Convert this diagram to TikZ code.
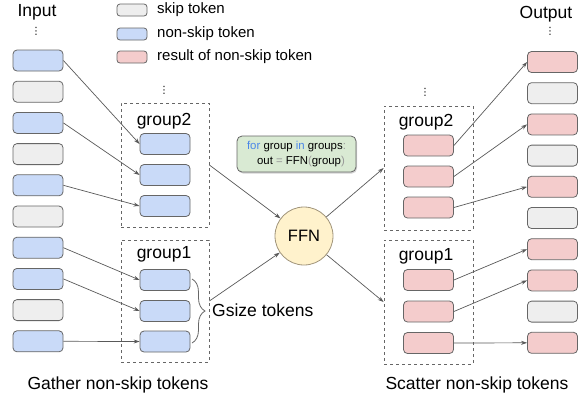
\documentclass[tikz,border=0pt]{standalone}
\usepackage{fontspec}
\setmainfont{Liberation Sans}
\newfontfamily\dvfont{DejaVu Sans}
\usetikzlibrary{arrows.meta,decorations.pathreplacing,shadows}
\definecolor{bluefill}{HTML}{C9DAF8}
\definecolor{skipfill}{HTML}{EEEEEE}
\definecolor{redfill}{HTML}{F4CCCC}
\definecolor{greenfill}{HTML}{D9EAD3}
\definecolor{yellowfill}{HTML}{FFF2CC}
\definecolor{boxline}{HTML}{666666}
\definecolor{arrowline}{HTML}{595959}
\definecolor{circline}{HTML}{A0947A}
\definecolor{codeblue}{HTML}{4A86E8}
\definecolor{codegray}{HTML}{999999}
\tikzset{
  tok/.style={rectangle, rounded corners=4pt, draw=boxline, line width=0.8pt, minimum width=50pt, minimum height=21pt, inner sep=0pt},
  blue/.style={tok, fill=bluefill},
  skip/.style={tok, fill=skipfill},
  red/.style={tok, fill=redfill},
  legbox/.style={rectangle, rounded corners=3pt, draw=boxline, line width=0.8pt, minimum width=30pt, minimum height=12pt, inner sep=0pt},
  grp/.style={rectangle, draw=boxline, dashed, line width=0.7pt, inner sep=0pt},
  conn/.style={draw=arrowline, line width=0.7pt, -{Stealth[length=6pt,width=4pt]}},
  big/.style={font=\fontsize{17.5}{20}\selectfont, inner sep=0pt},
  leg/.style={font=\fontsize{15}{18}\selectfont, inner sep=0pt, anchor=west},
  dots/.style={font=\dvfont\fontsize{10}{10}\selectfont, inner sep=0pt, text height=8pt, text depth=0pt},
}
\begin{document}
\begin{tikzpicture}[x=1pt,y=-1pt]
\useasboundingbox (0,0) rectangle (588,400);
% titles
\node[big] (tin) at (37,12) {Input};
\node[big] (tout) at (546,14) {Output};
\node[dots] (d1) at (36,30) {⋮};
\node[dots] (d2) at (164,89) {⋮};
\node[dots] (d3) at (425,91) {⋮};
\node[dots] (d4) at (550,30) {⋮};
% legend
\node[legbox, fill=skipfill] (l1) at (132,10) {};
\node[legbox, fill=bluefill] (l2) at (132,34) {};
\node[legbox, fill=redfill] (l3) at (132,57) {};
\node[leg] (lt1) at (157,10) {skip token};
\node[leg] (lt2) at (157,34) {non-skip token};
\node[leg] (lt3) at (157,57) {result of non-skip token};
% input column
\foreach \i/\s in {1/blue,2/skip,3/blue,4/skip,5/blue,6/skip,7/blue,8/blue,9/skip,10/blue}{
  \node[\s] (in\i) at (38,{60.5+31.2*(\i-1)}) {};
}
% output column
\foreach \i/\s in {1/red,2/skip,3/red,4/skip,5/red,6/skip,7/red,8/red,9/skip,10/red}{
  \node[\s] (out\i) at (552.5,{62+31.2*(\i-1)}) {};
}
% left groups
\node[grp, minimum width=88pt, minimum height=124pt] (lg2) at (165,165) {};
\node[grp, minimum width=88pt, minimum height=122pt] (lg1) at (165,301) {};
\node[big] (lg2t) at (164,121) {group2};
\node[big] (lg1t) at (164,254) {group1};
\node[blue] (a1) at (165,144) {};
\node[blue] (a2) at (165,175) {};
\node[blue] (a3) at (165,206) {};
\node[blue] (b1) at (165,280) {};
\node[blue] (b2) at (165,311) {};
\node[blue] (b3) at (165,341.5) {};
% right groups
\node[grp, minimum width=89pt, minimum height=124pt] (rg2) at (428.5,168) {};
\node[grp, minimum width=89pt, minimum height=124pt] (rg1) at (428.5,302) {};
\node[big] (rg2t) at (426,122) {group2};
\node[big] (rg1t) at (426,256) {group1};
\node[red] (c1) at (428.5,145.5) {};
\node[red] (c2) at (428.5,176.5) {};
\node[red] (c3) at (428.5,207.5) {};
\node[red] (e1) at (428.5,280) {};
\node[red] (e2) at (428.5,311.5) {};
\node[red] (e3) at (428.5,343) {};
% FFN
\node[circle, draw=circline, fill=yellowfill, line width=0.8pt, minimum size=58pt, inner sep=0pt, font=\fontsize{16.5}{18}\selectfont] (ffn) at (304,236) {FFN};
% code box
\node[rectangle, rounded corners=5pt, draw=boxline, fill=greenfill, line width=0.8pt, minimum width=119pt, minimum height=36pt, drop shadow={shadow xshift=1pt, shadow yshift=-1.5pt, opacity=0.35}, align=left, inner sep=0pt, font=\fontsize{11.4}{15}\selectfont] (code) at (296.5,154)
 {\textcolor{codeblue}{for} group \textcolor{codeblue}{in} groups\textcolor{codegray}{:}\\\hspace*{10pt}out \textcolor{codegray}{=} FFN\textcolor{codegray}{(}group\textcolor{codegray}{)}};
% gather arrows
\draw[conn] (in1.east) -- (a1.west);
\draw[conn] (in3.east) -- (a2.west);
\draw[conn] (in5.east) -- (a3.west);
\draw[conn] (in7.east) -- (b1.west);
\draw[conn] (in8.east) -- (b2.west);
\draw[conn] (in10.east) -- (b3.west);
% scatter arrows
\draw[conn] (c1.east) -- (out1.west);
\draw[conn] (c2.east) -- (out3.west);
\draw[conn] (c3.east) -- (out5.west);
\draw[conn] (e1.east) -- (out7.west);
\draw[conn] (e2.east) -- (out8.west);
\draw[conn] (e3.east) -- (out10.west);
% FFN arrows
\draw[conn] (lg2.east) -- (ffn);
\draw[conn] (lg1.east) -- (ffn);
\draw[conn] (ffn) -- (rg2.west);
\draw[conn] (ffn) -- (rg1.west);
% brace
\coordinate (bt) at (192,279);
\coordinate (bb) at (192,343);
\draw[draw=boxline, line width=0.8pt, decorate, decoration={brace, amplitude=13pt}] (bt) -- (bb);
\node[big, anchor=west] (gs) at (212,310) {Gsize tokens};
% bottom labels
\node[big] (gather) at (118,385) {Gather non-skip tokens};
\node[big] (scatter) at (477,385) {Scatter non-skip tokens};
\end{tikzpicture}
\end{document}
